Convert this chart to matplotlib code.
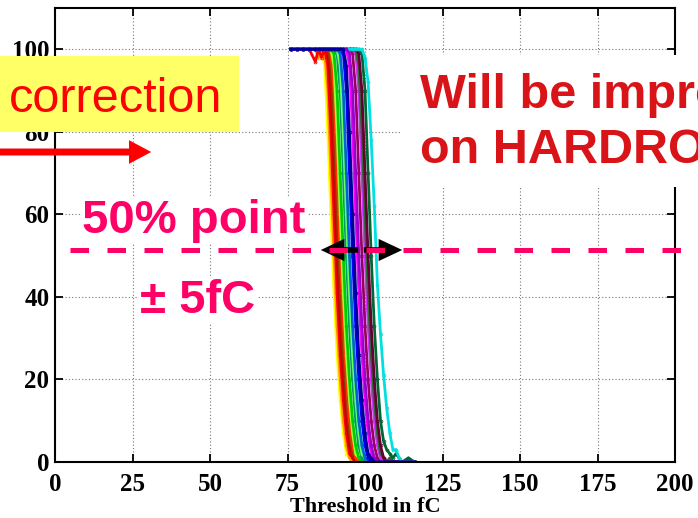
import matplotlib
matplotlib.use('Agg')
import matplotlib.pyplot as plt
from matplotlib.patches import Rectangle, FancyArrowPatch
from matplotlib.lines import Line2D

# threshold scan points (fC)
threshold = [76, 78, 80, 82, 84, 85, 86, 87, 88, 89, 90, 91, 92, 93, 94, 95, 96, 97,
             98, 99, 100, 101, 102, 103, 104, 105, 106, 107, 108, 109, 110, 111, 112, 114, 116]

# efficiency (%) per channel
ch_yellow = [100, 100, 100, 100, 100, 100, 100, 96, 80, 60, 41, 26, 15, 7, 2, 1, 0, 0,
             0, 0, 0, 0, 0, 0, 0, 0, 0, 0, 0, 0, 0, 0, 0, 0, 0]
ch_orange = [100, 100, 100, 100, 100, 98, 99, 99, 90, 70, 50, 33, 20, 10, 4, 1, 0, 0,
             0, 0, 0, 0, 0, 0, 0, 0, 0, 0, 0, 0, 0, 0, 0, 0, 0]
ch_red = [100, 100, 100, 100, 97, 100, 98, 100, 96, 80, 60, 41, 26, 15, 7, 2, 1, 0,
          0, 0, 0, 0, 0, 0, 0, 0, 0, 0, 0, 0, 0, 0, 0, 0, 0]
ch_darkred = [100, 100, 100, 100, 100, 100, 100, 100, 99, 90, 70, 50, 33, 20, 10, 4, 1, 0,
              0, 0, 0, 0, 0, 0, 0, 0, 0, 0, 0, 0, 0, 0, 0, 0, 0]
ch_brown = [100, 100, 100, 100, 100, 100, 100, 100, 100, 96, 80, 60, 41, 26, 15, 7, 2, 1,
            0, 0, 0, 0, 0, 0, 0, 0, 0, 0, 0, 0, 0, 0, 0, 0, 0]
ch_orangered = [100, 100, 100, 100, 100, 100, 100, 100, 100, 99, 90, 70, 50, 33, 20, 10, 4, 1,
                0, 0, 0, 0, 0, 0, 0, 0, 0, 0, 0, 0, 0, 0, 0, 0, 0]
ch_lime = [100, 100, 100, 100, 100, 100, 100, 100, 100, 100, 96, 80, 60, 41, 26, 15, 7, 2,
           1, 0, 0, 0, 0, 0, 0, 0, 0, 0, 0, 0, 0, 0, 0, 0, 0]
ch_green = [100, 100, 100, 100, 100, 100, 100, 100, 100, 100, 99, 90, 70, 50, 33, 20, 10, 4,
            1, 0, 0, 0, 0, 0, 0, 0, 0, 0, 0, 0, 0, 0, 0, 0, 0]
ch_seagreen = [100, 100, 100, 100, 100, 100, 100, 100, 100, 100, 100, 99, 90, 70, 50, 33, 20, 10,
               4, 1, 0, 0, 0, 0, 0, 0, 0, 0, 0, 0, 0, 0, 0, 0, 0]
ch_lightgreen = [100, 100, 100, 100, 100, 100, 100, 100, 100, 100, 100, 100, 96, 80, 60, 41, 26, 15,
                 7, 2, 1, 0, 0, 0, 0, 0, 0, 0, 0, 0, 0, 0, 0, 0, 0]
ch_steel = [100, 100, 100, 100, 100, 100, 100, 100, 100, 100, 100, 100, 99, 90, 70, 50, 33, 20,
            10, 4, 1, 0, 0, 0, 0, 0, 0, 0, 0, 0, 0, 0, 0, 0, 0]
ch_blue = [100, 100, 100, 100, 100, 100, 100, 100, 100, 100, 100, 100, 100, 99, 90, 70, 50, 33,
           20, 10, 4, 1, 0, 0, 0, 0, 0, 0, 0, 0, 0, 0, 0, 0, 0]
ch_magenta = [100, 100, 100, 100, 100, 100, 100, 100, 100, 100, 100, 100, 100, 100, 100, 96, 80, 60,
              41, 26, 15, 7, 2, 1, 0, 0, 0, 0, 0, 0, 0, 0, 0, 0, 0]
ch_darkmagenta = [100, 100, 100, 100, 100, 100, 100, 100, 100, 100, 100, 100, 100, 100, 100, 100, 99, 90,
                  70, 50, 33, 20, 10, 4, 1, 0, 0, 0, 0, 0, 0, 0, 0, 0, 0]
ch_violet = [100, 100, 100, 100, 100, 100, 100, 100, 100, 100, 100, 100, 100, 100, 100, 100, 100, 99,
             90, 70, 50, 33, 20, 10, 4, 1, 0, 0, 0, 0, 0, 0, 0, 0, 0]
ch_olive = [100, 100, 100, 100, 100, 100, 100, 100, 100, 100, 100, 100, 100, 100, 100, 100, 100, 100,
            96, 80, 60, 41, 26, 15, 7, 2, 1, 0, 1, 0, 0, 0, 0, 0, 0]
ch_maroon = [100, 100, 100, 100, 100, 100, 100, 100, 100, 100, 100, 100, 100, 100, 100, 100, 100, 100,
             99, 90, 70, 50, 33, 20, 10, 4, 1, 0, 0, 0, 0, 0, 0, 0, 0]
ch_darkgreen = [100, 100, 100, 100, 100, 100, 100, 100, 100, 100, 100, 100, 100, 100, 100, 100, 100, 100,
                100, 99, 90, 70, 50, 33, 20, 10, 5, 3, 2, 1, 2, 1, 0, 1, 0]
ch_cyan = [100, 100, 100, 100, 100, 100, 100, 100, 100, 100, 100, 100, 100, 100, 100, 100, 100, 100,
           100, 100, 98, 92, 78, 62, 43, 31, 21, 13, 7, 3, 3, 1, 0, 0, 0]
ch_purple = [100, 100, 100, 100, 100, 100, 100, 100, 100, 100, 100, 100, 100, 100, 100, 99, 90, 70,
             50, 33, 20, 10, 4, 1, 0, 0, 0, 0, 0, 0, 0, 0, 0, 0, 0]
ch_navy = [100, 100, 100, 100, 100, 100, 100, 100, 100, 100, 100, 100, 100, 100, 96, 80, 60, 41,
           26, 15, 7, 2, 1, 0, 0, 0, 0, 0, 0, 0, 0, 0, 0, 0, 0]

channels = [
    (ch_yellow, '#ffff00'), (ch_orange, '#ff9900'), (ch_red, '#ff0000'),
    (ch_darkred, '#cc0000'), (ch_brown, '#993300'), (ch_orangered, '#ff3300'),
    (ch_lime, '#99ff33'), (ch_green, '#00cc00'), (ch_seagreen, '#009966'),
    (ch_lightgreen, '#66ff66'), (ch_steel, '#0066cc'), (ch_blue, '#0000ff'),
    (ch_magenta, '#ff00ff'), (ch_darkmagenta, '#990066'), (ch_violet, '#cc33ff'),
    (ch_olive, '#336633'), (ch_maroon, '#660033'), (ch_darkgreen, '#006633'),
    (ch_cyan, '#00e0e0'), (ch_purple, '#9900cc'), (ch_navy, '#000099'),
]

W, H = 698, 518
def fx(px): return px / W
def fy(py): return 1 - py / H

fig = plt.figure(figsize=(W / 100, H / 100), dpi=100)
ax = fig.add_axes([fx(55), fy(462), 620 / W, 454 / H])

for vals, col in channels:
    ax.plot(threshold, vals, color=col, lw=2, marker='o', ms=2, mfc='none', mew=0.6)

ax.set_xlim(0, 200)
ax.set_ylim(0, 110)
ax.set_xticks(range(0, 201, 25))
ax.set_yticks(range(0, 101, 20))
ax.grid(True, ls=(0, (1, 2)), color='#777777', lw=0.8)
ax.tick_params(direction='in', top=True, right=True, length=6, width=1.3, labelsize=18)
ax.tick_params(axis='x', pad=8)
ax.tick_params(axis='y', pad=4)
for lab in ax.get_xticklabels() + ax.get_yticklabels():
    lab.set_family('Liberation Serif')
    lab.set_fontweight('bold')
for s in ax.spines.values():
    s.set_linewidth(1.5)
ax.set_xlabel('Threshold in fC', family='Liberation Serif', fontweight='bold', fontsize=16, labelpad=1)

# slide overlays
fig.add_artist(Rectangle((0, fy(132)), fx(239), (132 - 56) / H, transform=fig.transFigure,
                         facecolor='#ffff66', edgecolor='none', zorder=5))
fig.text(fx(9), fy(112), 'correction', color='#ff0000', fontsize=35, family='Liberation Sans',
         va='baseline', ha='left', zorder=6)
fig.add_artist(FancyArrowPatch((fx(-5), fy(152)), (fx(154), fy(152)), transform=fig.transFigure,
                               arrowstyle='simple,head_length=16,head_width=17,tail_width=5',
                               mutation_scale=1, color='#ff0000', lw=0, zorder=6))

fig.add_artist(Rectangle((fx(400), fy(187)), 1 - fx(400), (187 - 55) / H, transform=fig.transFigure,
                         facecolor='white', edgecolor='none', zorder=5))
fig.text(fx(420), fy(108), 'Will be improved', color='#d81418', fontsize=35, fontweight='bold',
         family='Liberation Sans', va='baseline', ha='left', zorder=6)
fig.text(fx(420), fy(163), 'on HARDROC2', color='#d81418', fontsize=35, fontweight='bold',
         family='Liberation Sans', va='baseline', ha='left', zorder=6)

pink = '#ff0066'
fig.text(fx(82), fy(233), '50% point', color=pink, fontsize=34, fontweight='bold',
         family='Liberation Sans', va='baseline', ha='left', zorder=6,
         bbox=dict(facecolor='white', edgecolor='none', pad=1))
fig.text(fx(140), fy(313), '\u00b1 5fC', color=pink, fontsize=34, fontweight='bold',
         family='Liberation Sans', va='baseline', ha='left', zorder=6,
         bbox=dict(facecolor='white', edgecolor='none', pad=1))

for tip in (318, 405):
    fig.add_artist(FancyArrowPatch((fx(361), fy(250)), (fx(tip), fy(250)), transform=fig.transFigure,
                                   arrowstyle='simple,head_length=17,head_width=16,tail_width=4',
                                   mutation_scale=1, color='black', lw=0, zorder=7))

fig.add_artist(Line2D([fx(70), 1.0], [fy(250), fy(250)], transform=fig.transFigure,
                      color=pink, lw=3.6, ls=(0, (3.7, 3.7)), zorder=8))

fig.savefig('out.png', dpi=100)
